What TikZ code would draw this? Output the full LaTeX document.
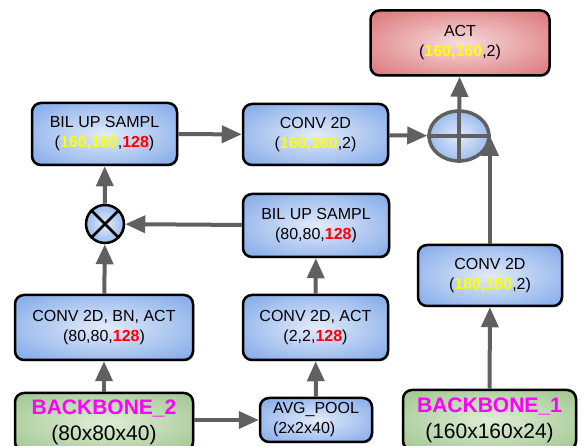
\documentclass[tikz,border=0pt]{standalone}
\usepackage{fontspec}
\setmainfont{Liberation Sans}
\usetikzlibrary{arrows.meta, shapes.geometric, shadows}
\definecolor{blueedge}{HTML}{74A0E6}
\definecolor{bluemid}{HTML}{E2EBFA}
\definecolor{greenedge}{HTML}{98C184}
\definecolor{greenmid}{HTML}{DFEDD8}
\definecolor{rededge}{HTML}{D7666A}
\definecolor{redmid}{HTML}{F7DCDC}
\definecolor{flowgray}{HTML}{606060}
\definecolor{bbmagenta}{HTML}{FF00FF}
\definecolor{dimyellow}{HTML}{FFFF00}
\definecolor{dimred}{HTML}{FF0000}

% soft glow from the middle out to the border
\pgfdeclareradialshading{glowblue}{\pgfpointorigin}
  {color(0bp)=(bluemid); color(40bp)=(blueedge); color(50bp)=(blueedge)}
\pgfdeclareradialshading{glowgreen}{\pgfpointorigin}
  {color(0bp)=(greenmid); color(40bp)=(greenedge); color(50bp)=(greenedge)}
\pgfdeclareradialshading{glowred}{\pgfpointorigin}
  {color(0bp)=(redmid); color(40bp)=(rededge); color(50bp)=(rededge)}

% coloured tensor sizes
\newcommand{\yel}[1]{\textcolor{dimyellow}{\textbf{#1}}}
\newcommand{\rd}[1]{\textcolor{dimred}{\textbf{#1}}}

\tikzset{
  layer/.style={rectangle, rounded corners=9pt, draw=black, line width=2.5pt,
    shading=glowblue, align=center,
    inner sep=0pt, font=\fontsize{16}{20}\selectfont,
    drop shadow={shadow xshift=1.5pt, shadow yshift=-1.5pt, opacity=0.3}},
  backbone/.style={layer, shading=glowgreen,
    font=\fontsize{21}{26}\selectfont},
  outlayer/.style={layer, shading=glowred},
  flow/.style={draw=flowgray, line width=4pt, ->},
}

\begin{document}
\begin{tikzpicture}[x=1pt, y=1pt, >={Triangle[length=20pt, width=17pt]}]

\useasboundingbox (0,0) rectangle (585,446);

%% left branch
\node[backbone, minimum width=178, minimum height=58] (bb2) at (104,24)
  {\textcolor{bbmagenta}{\textbf{BACKBONE\_2}}\\(80x80x40)};
\node[layer, minimum width=178, minimum height=65] (convbn) at (104,118.5)
  {CONV 2D, BN, ACT\\(80,80,\rd{128})};
\node[circle, draw=black, line width=2.5pt, minimum size=38, inner sep=0pt,
  shading=glowblue] (times) at (105,222) {};
\draw[line width=2.5pt] (times.north west) -- (times.south east)
  (times.north east) -- (times.south west);
\node[layer, minimum width=145, minimum height=62] (bilup) at (104.5,312)
  {BIL UP SAMPL\\(\yel{160,160},\rd{128})};

%% pooling branch
\node[layer, align=left, minimum width=112, minimum height=44] (avg) at (316,26)
  {AVG\_POOL\\(2x2x40)};
\node[layer, minimum width=145, minimum height=65] (convact) at (315.5,118.5)
  {CONV 2D, ACT\\(2,2,\rd{128})};
\node[layer, minimum width=146, minimum height=63] (bilmid) at (316,220.5)
  {BIL UP SAMPL\\(80,80,\rd{128})};
\node[layer, minimum width=145, minimum height=61] (convmid) at (315.5,311.5)
  {CONV 2D\\(\yel{160,160},2)};

%% right branch
\node[backbone, minimum width=173, minimum height=60] (bb1) at (489.5,26)
  {\textcolor{bbmagenta}{\textbf{BACKBONE\_1}}\\(160x160x24)};
\node[layer, minimum width=144, minimum height=61] (convr) at (490,170.5)
  {CONV 2D\\(\yel{160,160},2)};

% sum
\node[ellipse, draw=flowgray, line width=3.5pt, minimum width=60, minimum height=50,
  inner sep=0pt, shading=glowblue] (plus) at (459,310) {};
\draw[flowgray, line width=3.5pt] (plus.north) -- (plus.south)
  (plus.west) -- (plus.east);

\node[outlayer, minimum width=179, minimum height=65] (act) at (460,403)
  {ACT\\(\yel{160,160},2)};

% connections
\draw[flow] (bb2) -- (convbn);
\draw[flow] (bb2.east |- avg.west) -- (avg.west);
\draw[flow] (avg) -- (convact);
\draw[flow] (convact) -- (bilmid);
\draw[flow] (bilmid) -- (times);
\draw[flow] (convbn) -- (times);
\draw[flow] (times) -- (bilup);
\draw[flow] (bilup) -- (convmid);
\draw[flow] (convmid) -- (plus);
\draw[flow] (bb1) -- (convr);
\draw[flow] (convr.north) -- (convr.north |- plus.east);
\draw[flow] (plus) -- (act);

\end{tikzpicture}
\end{document}
